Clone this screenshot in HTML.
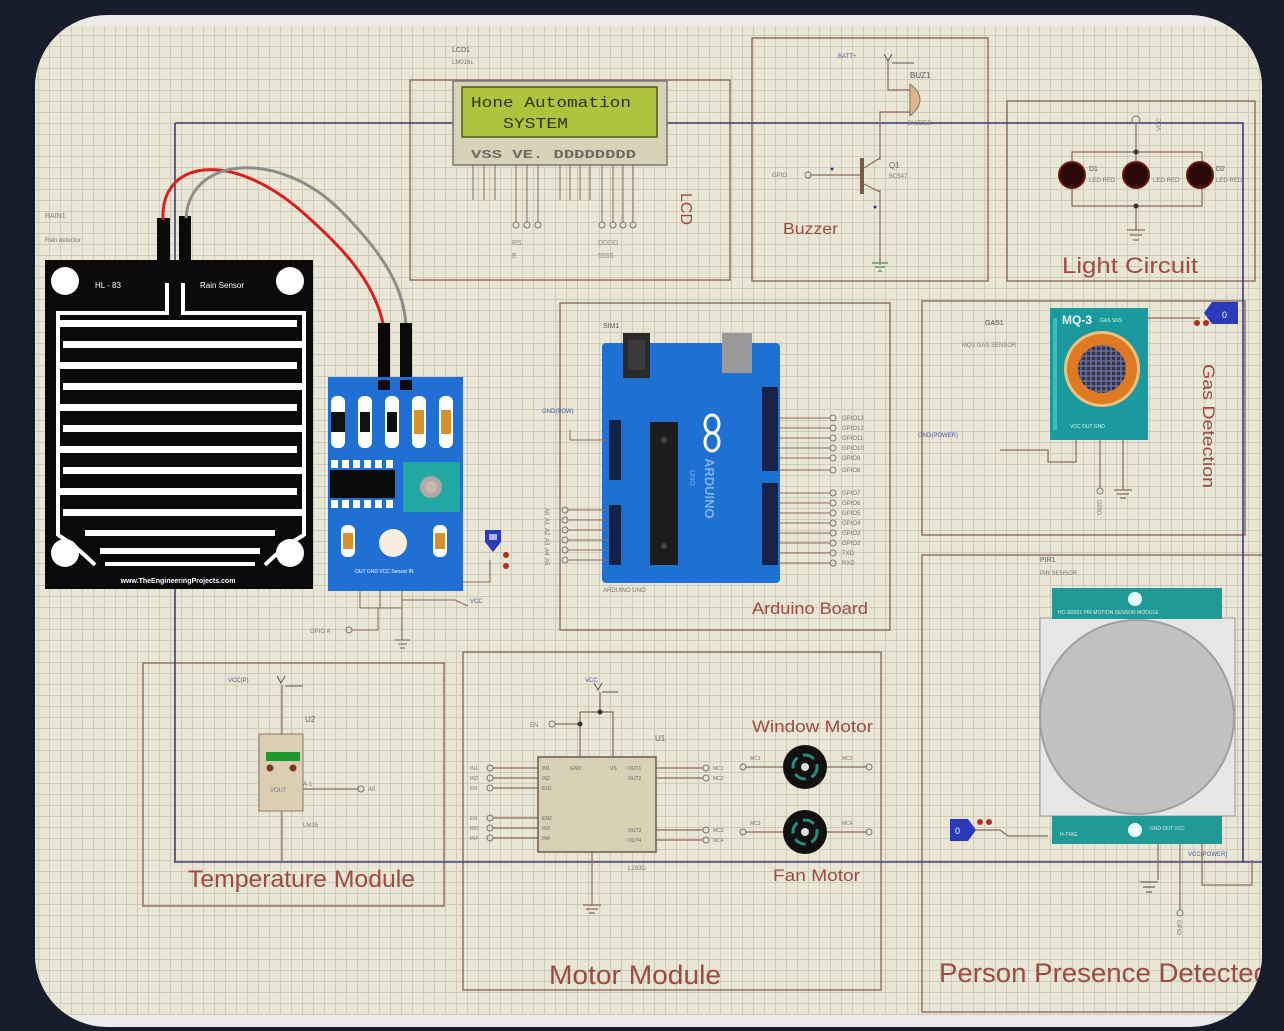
<!DOCTYPE html>
<html><head><meta charset="utf-8"><style>
html,body{margin:0;padding:0;background:#171d2a;}
svg{display:block;}
text{font-family:"Liberation Sans",sans-serif;}
.t{fill:#9b4b40;}
.s{font-size:6px;fill:#7a7a7a;}
.b{font-size:6px;fill:#4a5aa0;}
.mono{font-family:"Liberation Mono",monospace;}
</style></head><body>
<svg width="1284" height="1031" viewBox="0 0 1284 1031" xmlns="http://www.w3.org/2000/svg">
<defs>
<pattern id="g" width="11" height="11" patternUnits="userSpaceOnUse" x="5" y="2">
<rect width="11" height="11" fill="#e9e6d6"/>
<path d="M0 0.5H11M0.5 0V11" stroke="#cfcbba" stroke-width="1"/>
</pattern>
<clipPath id="card"><rect x="35" y="15" width="1227" height="1012" rx="72" ry="72"/></clipPath>
<pattern id="mesh" width="5" height="5" patternUnits="userSpaceOnUse">
<rect width="5" height="5" fill="#3a3040"/><path d="M0 1H5M1 0V5" stroke="#6a7ab0" stroke-width="1.3"/>
</pattern>
</defs>
<rect width="1284" height="1031" fill="#171d2a"/>
<g clip-path="url(#card)">
<rect x="35" y="15" width="1227" height="1012" fill="#ebebea"/>
<rect x="35" y="26" width="1227" height="989" fill="url(#g)"/>

<!-- section boxes -->
<g fill="none" stroke="#8b6a5e" stroke-width="1.4">
<rect x="410" y="80" width="320" height="200"/>
<rect x="752" y="38" width="236" height="243"/>
<rect x="1007" y="101" width="248" height="180"/>
<rect x="560" y="303" width="330" height="327"/>
<rect x="922" y="301" width="323" height="234"/>
<rect x="922" y="555" width="360" height="457"/>
<rect x="143" y="663" width="301" height="243"/>
<rect x="463" y="652" width="418" height="338"/>
</g>

<!-- navy bus -->
<g fill="none" stroke="#3d3d7c" stroke-width="1.6">
<path d="M175 123H1243V862M175 123V862H1262"/>
</g>

<!-- ============ Rain sensor ============ -->
<text x="45" y="218" class="s" style="font-size:7px">RAIN1</text>
<text x="45" y="242" class="s">Rain detector</text>
<rect x="45" y="260" width="268" height="329" fill="#0a0a0a"/>
<rect x="157" y="218" width="13" height="46" fill="#0a0a0a"/>
<rect x="179" y="216" width="12" height="48" fill="#0a0a0a"/>
<g fill="#fff">
<circle cx="65" cy="281" r="14"/><circle cx="290" cy="281" r="14"/>
<circle cx="65" cy="553" r="14"/><circle cx="290" cy="553" r="14"/>
<rect x="165" y="283" width="4" height="30"/><rect x="181" y="283" width="4" height="30"/>
<rect x="56" y="311" width="113" height="4"/><rect x="181" y="311" width="124" height="4"/>
<rect x="56" y="311" width="4" height="225"/><rect x="302" y="311" width="4" height="225"/>
<rect x="60" y="320" width="237" height="7"/>
<rect x="63" y="341" width="243" height="7"/>
<rect x="60" y="362" width="237" height="7"/>
<rect x="63" y="383" width="243" height="7"/>
<rect x="60" y="404" width="237" height="7"/>
<rect x="63" y="425" width="243" height="7"/>
<rect x="60" y="446" width="237" height="7"/>
<rect x="63" y="467" width="243" height="7"/>
<rect x="60" y="488" width="237" height="7"/>
<rect x="63" y="509" width="243" height="7"/>
<rect x="85" y="530" width="190" height="6"/>
<rect x="100" y="548" width="160" height="6"/>
<rect x="105" y="562" width="150" height="4"/>
</g>
<path d="M58 535Q75 545 95 565M304 535Q285 545 265 565" stroke="#fff" stroke-width="4" fill="none"/>
<text x="95" y="288" font-size="8" fill="#fff">HL - 83</text>
<text x="200" y="288" font-size="8" fill="#fff">Rain Sensor</text>
<text x="178" y="583" font-size="7" font-weight="bold" fill="#fff" text-anchor="middle">www.TheEngineeringProjects.com</text>

<!-- wires -->
<path d="M163 220C160 160 230 150 300 210C340 245 375 280 384 328" fill="none" stroke="#d82020" stroke-width="3"/>
<path d="M186 218C190 155 280 150 340 210C385 255 405 290 406 328" fill="none" stroke="#8a9088" stroke-width="3"/>
<rect x="378" y="323" width="12" height="66" fill="#0a0a0a"/>
<rect x="400" y="323" width="12" height="66" fill="#0a0a0a"/>

<!-- rain module -->
<rect x="328" y="377" width="135" height="214" fill="#1f6fd5"/>
<rect x="378" y="380" width="12" height="10" fill="#0a0a0a"/><rect x="400" y="380" width="12" height="10" fill="#0a0a0a"/>
<g>
<rect x="331" y="396" width="14" height="52" rx="6" fill="#fff"/><rect x="331" y="412" width="14" height="20" fill="#111"/>
<rect x="358" y="396" width="14" height="52" rx="6" fill="#fff"/><rect x="360" y="412" width="10" height="20" fill="#111"/>
<rect x="385" y="396" width="14" height="52" rx="6" fill="#fff"/><rect x="387" y="412" width="10" height="20" fill="#111"/>
<rect x="412" y="396" width="14" height="52" rx="6" fill="#fff"/><rect x="414" y="410" width="10" height="24" fill="#d8902c"/>
<rect x="439" y="396" width="14" height="52" rx="6" fill="#fff"/><rect x="441" y="410" width="10" height="24" fill="#d8902c"/>
</g>
<g fill="#fff">
<rect x="331" y="460" width="7" height="8"/><rect x="342" y="460" width="7" height="8"/><rect x="353" y="460" width="7" height="8"/><rect x="364" y="460" width="7" height="8"/><rect x="375" y="460" width="7" height="8"/><rect x="386" y="460" width="7" height="8"/>
<rect x="331" y="500" width="7" height="8"/><rect x="342" y="500" width="7" height="8"/><rect x="353" y="500" width="7" height="8"/><rect x="364" y="500" width="7" height="8"/><rect x="375" y="500" width="7" height="8"/><rect x="386" y="500" width="7" height="8"/>
</g>
<rect x="330" y="470" width="65" height="28" fill="#0a0a0a"/>
<rect x="403" y="462" width="57" height="50" fill="#22a8a2"/>
<circle cx="431" cy="487" r="11" fill="#b0a8a8"/><circle cx="431" cy="487" r="6" fill="#c8b8b0"/>
<rect x="341" y="525" width="14" height="32" rx="6" fill="#fff"/><rect x="343" y="533" width="10" height="16" fill="#d8902c"/>
<circle cx="393" cy="543" r="14" fill="#f6efe0"/>
<rect x="433" y="525" width="14" height="32" rx="6" fill="#fff"/><rect x="435" y="533" width="10" height="16" fill="#d8902c"/>
<text x="355" y="573" font-size="5" fill="#fff">OUT  GND  VCC   Sensor IN</text>
<g stroke="#8b6a5e" fill="none" stroke-width="1">
<path d="M360 591V608H402V625M380 591V608M402 591V608"/>
<path d="M378 608V630H352"/>
<path d="M462 582H490V560M402 600H455L468 606"/>
<path d="M395 640H410M398 644H407M400 648H405" stroke="#666"/>
<path d="M402 625V640" stroke="#666"/>
</g>
<circle cx="349" cy="630" r="3" fill="none" stroke="#777"/>
<text x="310" y="633" class="s">GPIO A</text>
<text x="470" y="603" class="b">VCC</text>
<path d="M485 530h16v12l-8 10l-8-10z" fill="#2a3ab8"/><rect x="489" y="534" width="8" height="6" fill="#fff" opacity=".6"/>
<circle cx="506" cy="555" r="3" fill="#b03020"/><circle cx="506" cy="566" r="3" fill="#b03020"/>

<!-- ============ LCD ============ -->
<text x="452" y="52" class="s" style="font-size:7px;fill:#555">LCD1</text>
<text x="452" y="64" class="s">LM016L</text>
<rect x="453" y="81" width="214" height="84" fill="#d8d3b8" stroke="#7a7a70" stroke-width="1.5"/>
<rect x="462" y="87" width="195" height="50" fill="#aec43c" stroke="#4e5a20" stroke-width="1.5"/>
<text x="471" y="107" class="mono" font-size="15" fill="#2e3418" textLength="160" lengthAdjust="spacingAndGlyphs">Hone Automation</text>
<text x="503" y="128" class="mono" font-size="15" fill="#2e3418" textLength="65" lengthAdjust="spacingAndGlyphs">SYSTEM</text>
<text x="471" y="158" class="mono" font-size="12" font-weight="bold" fill="#6a6a60" textLength="165" lengthAdjust="spacingAndGlyphs">VSS VE. DDDDDDDD</text>
<g stroke="#8b6a5e" stroke-width="1">
<path d="M473 165V200M484 165V200M495 165V200M560 165V200M570 165V200M580 165V200M590 165V200"/>
<path d="M516 165V222M527 165V222M538 165V222M602 165V222M613 165V222M623 165V222M633 165V222"/>
</g>
<g fill="none" stroke="#777" stroke-width="1">
<circle cx="516" cy="225" r="3"/><circle cx="527" cy="225" r="3"/><circle cx="538" cy="225" r="3"/>
<circle cx="602" cy="225" r="3"/><circle cx="613" cy="225" r="3"/><circle cx="623" cy="225" r="3"/><circle cx="633" cy="225" r="3"/>
</g>
<g font-size="7" fill="#888">
<text x="512" y="245">RS</text><text x="512" y="258">E</text>
<text x="598" y="245">DDDD</text><text x="598" y="258">5555</text>
</g>
<text class="t" font-size="16" transform="translate(681,193) rotate(90)">LCD</text>

<!-- ============ Buzzer ============ -->
<text x="838" y="58" class="b">BATT+</text>
<path d="M884 54l4 7 4-7" fill="none" stroke="#555"/>
<path d="M892 63h22" stroke="#555"/>
<g stroke="#8b6a5e" fill="none" stroke-width="1.2">
<path d="M888 62V90H910"/>
<path d="M910 112H880V160"/>
<path d="M880 190V265"/>
<path d="M810 175H862"/>
<path d="M864 168L880 158M864 184L880 192"/>
</g>
<rect x="860" y="158" width="4" height="36" fill="#7a5a40"/>
<path d="M910 84Q930 99 910 116Z" fill="#d9b88e" stroke="#8a7050"/>
<text x="910" y="78" class="s" style="font-size:8px;fill:#555">BUZ1</text>
<text x="908" y="125" class="s">BUZZER</text>
<circle cx="808" cy="175" r="3" fill="none" stroke="#777"/>
<text x="772" y="177" class="s">GPIO</text>
<text x="889" y="168" font-size="8" fill="#666">Q1</text>
<text x="889" y="178" class="s">BC547</text>
<circle cx="832" cy="169" r="1.5" fill="#3030a0"/><circle cx="875" cy="207" r="1.5" fill="#3030a0"/>
<path d="M872 263H888M875 267H885M878 271H882" stroke="#6a9a6a" stroke-width="1.5"/>
<text x="783" y="234" class="t" font-size="16" textLength="55" lengthAdjust="spacingAndGlyphs">Buzzer</text>

<!-- ============ Light circuit ============ -->
<g stroke="#8b6a5e" fill="none" stroke-width="1.2">
<path d="M1072 163V152H1202V163M1136 125V163"/>
<path d="M1072 188V206H1202V188M1136 206V230"/>
<path d="M1127 230H1145M1130 235H1142M1133 240H1139"/>
</g>
<circle cx="1136" cy="120" r="4" fill="none" stroke="#777"/>
<text x="1150" y="130" class="s" transform="rotate(-90 1156 125)">VCC</text>
<circle cx="1136" cy="152" r="2.5" fill="#333"/><circle cx="1136" cy="206" r="2.5" fill="#333"/>
<g fill="#2d0808" stroke="#6a1a10" stroke-width="2">
<circle cx="1072" cy="175" r="13"/><circle cx="1136" cy="175" r="13"/><circle cx="1200" cy="175" r="13"/>
</g>
<text x="1089" y="171" font-size="7" fill="#555">D1</text><text x="1089" y="182" class="s">LED-RED</text>
<text x="1153" y="182" class="s">LED-RED</text>
<text x="1216" y="171" font-size="7" fill="#555">D2</text><text x="1216" y="182" class="s">LED-RED</text>
<text x="1062" y="273" class="t" font-size="22" textLength="136" lengthAdjust="spacingAndGlyphs">Light Circuit</text>

<!-- ============ Arduino ============ -->
<text x="603" y="328" font-size="7" fill="#555">SIM1</text>
<rect x="602" y="343" width="178" height="240" rx="4" fill="#1f70d3"/>
<rect x="623" y="333" width="27" height="45" fill="#2a2a2a"/>
<rect x="628" y="340" width="17" height="30" fill="#3a3a3a"/>
<rect x="722" y="333" width="30" height="40" fill="#9a9898"/>
<rect x="762" y="387" width="16" height="84" fill="#15224a"/>
<rect x="762" y="483" width="16" height="82" fill="#15224a"/>
<rect x="609" y="420" width="12" height="60" fill="#15224a"/>
<rect x="609" y="505" width="12" height="60" fill="#15224a"/>
<rect x="650" y="422" width="28" height="143" fill="#1c1c1c"/>
<circle cx="664" cy="440" r="3" fill="#444"/><circle cx="664" cy="546" r="3" fill="#444"/>
<g fill="none" stroke="#fff" stroke-width="3">
<ellipse cx="712" cy="424" rx="7" ry="9"/><ellipse cx="712" cy="442" rx="7" ry="9"/>
</g>
<text transform="translate(705,458) rotate(90)" font-size="13" font-weight="bold" fill="#7fb0e8">ARDUINO</text>
<text transform="translate(690,470) rotate(90)" font-size="7" fill="#7fb0e8">UNO</text>
<g stroke="#8b6a5e" stroke-width="1" fill="none">
<path d="M780 418H830M780 428H830M780 438H830M780 448H830M780 458H830M780 470H830"/>
<path d="M780 493H830M780 503H830M780 513H830M780 523H830M780 533H830M780 543H830M780 553H830M780 563H830"/>
<path d="M568 510H609M568 520H609M568 530H609M568 540H609M568 550H609M568 560H609"/>
<path d="M570 440H608M570 430V440"/>
</g>
<g fill="none" stroke="#777" stroke-width="1">
<circle cx="833" cy="418" r="3"/><circle cx="833" cy="428" r="3"/><circle cx="833" cy="438" r="3"/><circle cx="833" cy="448" r="3"/><circle cx="833" cy="458" r="3"/><circle cx="833" cy="470" r="3"/>
<circle cx="833" cy="493" r="3"/><circle cx="833" cy="503" r="3"/><circle cx="833" cy="513" r="3"/><circle cx="833" cy="523" r="3"/><circle cx="833" cy="533" r="3"/><circle cx="833" cy="543" r="3"/><circle cx="833" cy="553" r="3"/><circle cx="833" cy="563" r="3"/>
<circle cx="565" cy="510" r="3"/><circle cx="565" cy="520" r="3"/><circle cx="565" cy="530" r="3"/><circle cx="565" cy="540" r="3"/><circle cx="565" cy="550" r="3"/><circle cx="565" cy="560" r="3"/>
</g>
<g font-size="6" fill="#777">
<text x="842" y="420">GPIO13</text><text x="842" y="430">GPIO12</text><text x="842" y="440">GPIO11</text><text x="842" y="450">GPIO10</text><text x="842" y="460">GPIO9</text><text x="842" y="472">GPIO8</text>
<text x="842" y="495">GPIO7</text><text x="842" y="505">GPIO6</text><text x="842" y="515">GPIO5</text><text x="842" y="525">GPIO4</text><text x="842" y="535">GPIO3</text><text x="842" y="545">GPIO2</text><text x="842" y="555">TXD</text><text x="842" y="565">RXD</text>
</g>
<g font-size="6" fill="#777">
<text transform="translate(545,508) rotate(90)">A0</text><text transform="translate(545,518) rotate(90)">A1</text><text transform="translate(545,528) rotate(90)">A2</text><text transform="translate(545,538) rotate(90)">A3</text><text transform="translate(545,548) rotate(90)">A4</text><text transform="translate(545,558) rotate(90)">A5</text>
</g>
<text x="542" y="413" class="b">GND(POW)</text>
<text x="603" y="592" class="s">ARDUINO UNO</text>
<text x="752" y="614" class="t" font-size="17" textLength="116" lengthAdjust="spacingAndGlyphs">Arduino Board</text>

<!-- ============ Gas detection ============ -->
<text x="985" y="325" font-size="7" fill="#555">GAS1</text>
<text x="962" y="347" class="s">MQ3 GAS SENSOR</text>
<rect x="1050" y="308" width="98" height="132" fill="#1a9a9e"/>
<rect x="1053" y="318" width="4" height="112" fill="#5fd0d0" opacity=".6"/>
<text x="1062" y="324" font-size="12" font-weight="bold" fill="#e8f8f8">MQ-3</text>
<text x="1100" y="322" font-size="5" fill="#cfe">GAS SNS</text>
<circle cx="1102" cy="369" r="38" fill="#f0c080"/>
<circle cx="1102" cy="369" r="35" fill="#e07a22"/>
<circle cx="1102" cy="369" r="24" fill="url(#mesh)"/>
<text x="1070" y="428" font-size="5" fill="#cfe">VCC  OUT  GND</text>
<g stroke="#8b6a5e" fill="none" stroke-width="1.2">
<path d="M1148 318H1200"/>
<path d="M1076 440V462H1048V450H1000"/>
<path d="M1100 440V488M1123 440V490"/>
<path d="M1114 490H1132M1117 494H1129M1120 498H1126"/>
</g>
<circle cx="1100" cy="491" r="3" fill="none" stroke="#777"/>
<text transform="translate(1097,500) rotate(90)" class="s">GPIO</text>
<text x="918" y="437" class="b">GND(POWER)</text>
<path d="M1212 302h26v22h-26l-8-11z" fill="#2a3ab8"/><text x="1222" y="318" font-size="9" fill="#fff">0</text>
<circle cx="1197" cy="323" r="3" fill="#b03020"/><circle cx="1206" cy="323" r="3" fill="#b03020"/>
<text class="t" font-size="17" transform="translate(1203,364) rotate(90)" textLength="124" lengthAdjust="spacingAndGlyphs">Gas Detection</text>

<!-- ============ PIR ============ -->
<text x="1040" y="562" font-size="7" fill="#555">PIR1</text>
<text x="1040" y="575" class="s">PIR SENSOR</text>
<rect x="1040" y="618" width="195" height="198" fill="#e6e6e4" stroke="#9a9a98"/>
<rect x="1052" y="588" width="170" height="31" fill="#1f9a96"/>
<circle cx="1135" cy="599" r="7" fill="#e8ffff"/>
<text x="1058" y="614" font-size="5" fill="#e0f0f0">HC-SR501 PIR MOTION SENSOR MODULE</text>
<circle cx="1137" cy="717" r="97" fill="#c2c2c2" stroke="#a0a0a0" stroke-width="2"/>
<rect x="1052" y="816" width="170" height="28" fill="#1f9a96"/>
<circle cx="1135" cy="830" r="7" fill="#e8ffff"/>
<text x="1060" y="836" font-size="5" fill="#e0f0f0">H-TRIG</text>
<text x="1150" y="830" font-size="5" fill="#e0f0f0">GND OUT VCC</text>
<g stroke="#8b6a5e" fill="none" stroke-width="1.2">
<path d="M976 830H1000L1008 836H1048"/>
<path d="M1158 844V880M1180 844V910M1202 844V885H1252V860"/>
<path d="M1140 882H1158M1143 887H1155M1146 892H1152" stroke="#666"/>
</g>
<circle cx="1180" cy="913" r="3" fill="none" stroke="#777"/>
<text transform="translate(1177,920) rotate(90)" class="s">GPIO</text>
<text x="1188" y="856" class="b">VCC(POWER)</text>
<path d="M950 819h18l8 11l-8 11h-18z" fill="#2a3ab8"/><text x="955" y="834" font-size="9" fill="#fff">0</text>
<circle cx="980" cy="822" r="3" fill="#b03020"/><circle cx="989" cy="822" r="3" fill="#b03020"/>
<text x="939" y="982" class="t" font-size="27" textLength="330" lengthAdjust="spacingAndGlyphs">Person Presence Detected</text>

<!-- ============ Temperature ============ -->
<text x="228" y="682" class="b">VCC(P)</text>
<path d="M277 676l4 7 4-7" fill="none" stroke="#555"/>
<path d="M285 686h18" stroke="#555"/>
<g stroke="#8b6a5e" fill="none" stroke-width="1.2">
<path d="M282 685V734M282 811V862M303 789H358"/>
</g>
<rect x="259" y="734" width="44" height="77" fill="#dccdb5" stroke="#8a7a6a"/>
<rect x="266" y="752" width="34" height="9" fill="#1f9a2a"/>
<circle cx="270" cy="768" r="3.5" fill="#7a3a1a"/><circle cx="293" cy="768" r="3.5" fill="#7a3a1a"/>
<circle cx="361" cy="789" r="3" fill="none" stroke="#777"/>
<text x="368" y="791" class="s">A0</text>
<text x="305" y="722" font-size="8" fill="#666">U2</text>
<text x="303" y="786" class="s">A-1</text>
<text x="270" y="792" class="s">VOUT</text>
<text x="303" y="827" class="s">LM35</text>
<text x="188" y="887" class="t" font-size="24" textLength="227" lengthAdjust="spacingAndGlyphs">Temperature Module</text>

<!-- ============ Motor module ============ -->
<text x="585" y="682" class="b">VCC</text>
<path d="M594 683l4 7 4-7" fill="none" stroke="#555"/>
<path d="M602 692h16" stroke="#555"/>
<g stroke="#8b6a5e" fill="none" stroke-width="1.2">
<path d="M600 692V712M555 724H580V757M580 712H613V757M580 712V724"/>
<path d="M493 768H538M493 778H538M493 788H538M493 818H538M493 828H538M493 838H538"/>
<path d="M656 768H703M656 778H703M656 830H703M656 840H703"/>
<path d="M592 852V905M583 905H601M586 909H598M589 913H595"/>
<path d="M745 767H783M827 767H867M745 832H783M827 832H867"/>
</g>
<circle cx="600" cy="712" r="2.5" fill="#333"/><circle cx="580" cy="724" r="2.5" fill="#333"/>
<circle cx="552" cy="724" r="3" fill="none" stroke="#777"/>
<text x="530" y="727" class="s">EN</text>
<g fill="none" stroke="#777">
<circle cx="490" cy="768" r="3"/><circle cx="490" cy="778" r="3"/><circle cx="490" cy="788" r="3"/>
<circle cx="490" cy="818" r="3"/><circle cx="490" cy="828" r="3"/><circle cx="490" cy="838" r="3"/>
<circle cx="706" cy="768" r="3"/><circle cx="706" cy="778" r="3"/><circle cx="706" cy="830" r="3"/><circle cx="706" cy="840" r="3"/>
<circle cx="743" cy="767" r="3"/><circle cx="869" cy="767" r="3"/><circle cx="743" cy="832" r="3"/><circle cx="869" cy="832" r="3"/>
</g>
<g font-size="5" fill="#777">
<text x="470" y="770">IN1</text><text x="470" y="780">IN2</text><text x="470" y="790">EN</text>
<text x="470" y="820">EN</text><text x="470" y="830">IN3</text><text x="470" y="840">IN4</text>
<text x="713" y="770">MC1</text><text x="713" y="780">MC2</text><text x="713" y="832">MC3</text><text x="713" y="842">MC4</text>
<text x="750" y="760">MC1</text><text x="842" y="760">MC2</text><text x="750" y="825">MC3</text><text x="842" y="825">MC4</text>
</g>
<rect x="538" y="757" width="118" height="95" fill="#d9d1b6" stroke="#6a5a4a" stroke-width="1.5"/>
<g font-size="5" fill="#666">
<text x="542" y="770">IN1</text><text x="542" y="780">IN2</text><text x="542" y="790">EN1</text>
<text x="542" y="820">EN2</text><text x="542" y="830">IN3</text><text x="542" y="840">IN4</text>
<text x="570" y="770">GND</text><text x="610" y="770">VS</text>
<text x="628" y="770">OUT1</text><text x="628" y="780">OUT2</text><text x="628" y="832">OUT3</text><text x="628" y="842">OUT4</text>
</g>
<text x="655" y="741" font-size="8" fill="#666">U1</text>
<text x="628" y="870" class="s">L293D</text>
<circle cx="805" cy="767" r="22" fill="#111"/>
<circle cx="805" cy="767" r="12" fill="none" stroke="#2a8a80" stroke-width="3" stroke-dasharray="12 6"/>
<circle cx="805" cy="767" r="4" fill="#ddd"/>
<circle cx="805" cy="832" r="22" fill="#111"/>
<circle cx="805" cy="832" r="12" fill="none" stroke="#2a8a80" stroke-width="3" stroke-dasharray="12 6"/>
<circle cx="805" cy="832" r="4" fill="#ddd"/>
<text x="752" y="732" class="t" font-size="17" textLength="121" lengthAdjust="spacingAndGlyphs">Window Motor</text>
<text x="773" y="881" class="t" font-size="17" textLength="87" lengthAdjust="spacingAndGlyphs">Fan Motor</text>
<text x="549" y="984" class="t" font-size="27" textLength="172" lengthAdjust="spacingAndGlyphs">Motor Module</text>
</g>
</svg>
</body></html>
